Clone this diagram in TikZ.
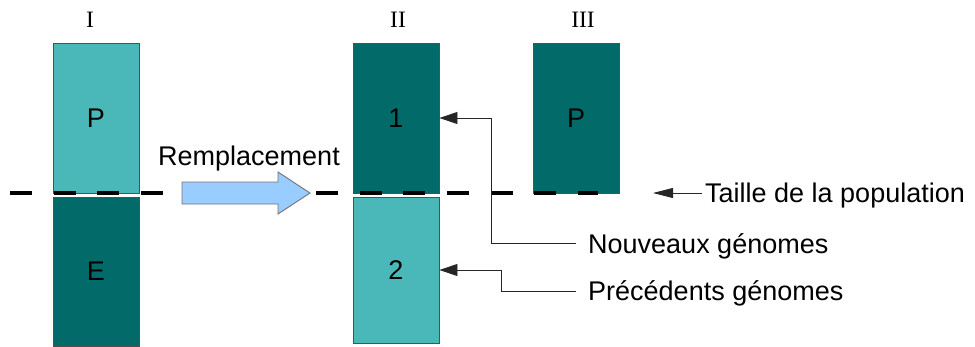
\documentclass[tikz,border=0pt]{standalone}
\usepackage{fontspec}
\setmainfont{Liberation Sans}
\newfontfamily\romfont{Liberation Serif}
\usetikzlibrary{arrows.meta}
\definecolor{lightteal}{RGB}{74,184,184}
\definecolor{darkteal}{RGB}{3,106,106}
\definecolor{arrowblue}{RGB}{153,204,255}
\definecolor{edgegray}{RGB}{80,80,80}
\tikzset{
  genbox/.style={draw=edgegray, line width=0.9pt, minimum width=86pt, inner sep=0pt,
    font=\fontsize{27}{30}\selectfont},
  lightbox/.style={genbox, fill=lightteal},
  darkbox/.style={genbox, fill=darkteal},
  roman/.style={font=\romfont\fontsize{23.5}{26}\selectfont, anchor=base, inner sep=0pt},
  lab/.style={font=\fontsize{27}{30}\selectfont, text height=19pt, text depth=0pt,
    inner ysep=0pt, anchor=west},
  conn/.style={draw=black!85, line width=0.9pt, -{Triangle[length=18pt,width=12pt]}},
  dashline/.style={line width=4.5pt, dash pattern=on 22pt off 21.7pt},
  bigarrow/.style={draw=black!55, line width=0.9pt, fill=arrowblue, line join=miter}
}
\begin{document}
\begin{tikzpicture}[x=1pt,y=-1pt]
\useasboundingbox (0,0) rectangle (975,346);
% column labels
\node[roman] (rI) at (90,27) {I};
\node[roman] (rII) at (398,27) {II};
\node[roman] (rIII) at (583,27) {III};
% boxes
\node[lightbox, minimum height=150pt] (p1) at (96,118) {P};
\node[darkbox, minimum height=149pt] (e1) at (96,271.5) {E};
\node[darkbox, minimum height=150pt] (b1) at (396,118) {1};
\node[lightbox, minimum height=146pt] (b2) at (396,270) {2};
\node[darkbox, minimum height=150pt] (p3) at (576,118) {P};
% dashed population line
\coordinate (dl) at (10,193);
\coordinate (dr) at (598,193);
\draw[dashline] (dl) -- (dr);
% replacement arrow
\draw[bigarrow] (182,182) -- (278,182) -- (278,172) -- (310,193) -- (278,214) -- (278,204) -- (182,204) -- cycle;
\node[font=\fontsize{27}{30}\selectfont, anchor=base, inner sep=0pt] (rep) at (249,165) {Remplacement};
% labels
\node[lab, inner xsep=3pt] (taille) at (702,193) {Taille de la population};
\coordinate (tip) at (653,193);
\draw[draw=black!85, line width=0.9pt, -{Triangle[length=20pt,width=10pt]}] (taille.west) -- (tip);
\node[lab, inner xsep=12pt] (nouv) at (576,243.7) {Nouveaux génomes};
\node[lab, inner xsep=12pt] (prec) at (576,291) {Précédents génomes};
\draw[conn] (nouv.west) -- ++(-85,0) |- (b1.east);
\draw[conn] (prec.west) -- ++(-75,0) |- (b2.east);
\end{tikzpicture}
\end{document}
